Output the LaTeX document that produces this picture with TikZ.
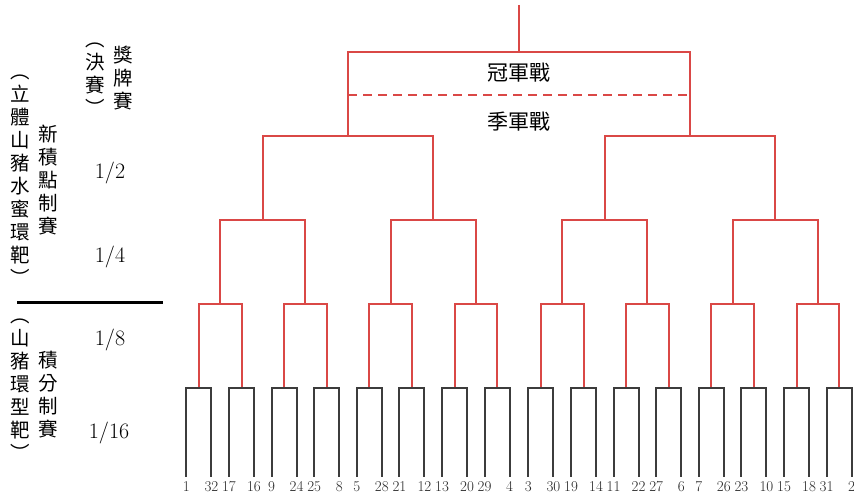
\documentclass[tikz,border=0pt]{standalone}
\usepackage{fontspec}
\usepackage{xcolor}
\usepackage{tikz}
\newfontfamily\cjk{Noto Sans CJK TC}
\definecolor{bracketred}{RGB}{218,72,70}
\definecolor{boxgray}{RGB}{60,60,60}
\def\seeds{{1,32,17,16,9,24,25,8,5,28,21,12,13,20,29,4,3,30,19,14,11,22,27,6,7,26,23,10,15,18,31,2}}

\begin{document}
\begin{tikzpicture}[x=1bp,y=-1bp,grow=down,level distance=84bp,line width=2bp,
    edge from parent path={(\tikzparentnode) -| (\tikzchildnode)},
    level 1/.style={sibling distance=342bp},
    level 2/.style={sibling distance=170.4bp},
    level 3/.style={sibling distance=85.2bp},
    level 4/.style={sibling distance=42.6bp},
    level 5/.style={sibling distance=25bp,level distance=89bp,color=boxgray},
    seed/.style={font=\fontsize{15bp}{15bp}\selectfont,anchor=north,inner xsep=0pt,inner ysep=3.5bp,text=black!85},
    vcol/.style={font=\cjk\fontsize{19.5bp}{23bp}\selectfont,align=center,inner sep=0pt},
    roundlbl/.style={font=\fontsize{22bp}{22bp}\selectfont,inner sep=0pt}]
    \useasboundingbox (0,0) rectangle (854,495);
    % bracket
    \begin{scope}[bracketred]
        \node[coordinate] (final) at (519,52) {}
        child foreach \a in {0,1} {coordinate
            child foreach \b in {0,1} {coordinate
                child foreach \c in {0,1} {coordinate
                    child foreach \d in {0,1} {coordinate
                        child foreach \e in {0,1} {node[seed]
                            {\pgfmathtruncatemacro\sd{\seeds[16*\a+8*\b+4*\c+2*\d+\e]}\sd}}
                    }
                }
            }
        };
        \coordinate (top) at (519,5);
        \coordinate (thirdline) at (519,95);
        \draw (top) -- (final);
        \draw[dash pattern=on 9bp off 6bp] (final-1 |- thirdline) -- (final-2 |- thirdline);
    \end{scope}
    \node[vcol,font=\cjk\fontsize{21bp}{21bp}\selectfont] (champ) at (519,73) {冠軍戰};
    \node[vcol,font=\cjk\fontsize{21bp}{21bp}\selectfont] (bronze) at (519,122) {季軍戰};
    % left column
    \node[vcol] (medal) at (123,78) {獎\\牌\\賽};
    \node[vcol] (finalnote) at (95,79) {︵\\決\\賽\\︶};
    \node[vcol] (newshape) at (20,180) {︵\\立\\體\\山\\豬\\水\\蜜\\環\\靶\\︶};
    \node[vcol] (newscore) at (48,180) {新\\積\\點\\制\\賽};
    \node[vcol] (oldshape) at (20,390) {︵\\山\\豬\\環\\型\\靶\\︶};
    \node[vcol] (oldscore) at (48,395) {積\\分\\制\\賽};
    \coordinate (divl) at (17,303);
    \coordinate (divr) at (163,303);
    \draw[line width=3bp] (divl) -- (divr);
    \node[roundlbl] (half) at (110,173) {1/2};
    \node[roundlbl] (quarter) at (110,257) {1/4};
    \node[roundlbl] (eighth) at (110,340) {1/8};
    \node[roundlbl] (sixteenth) at (109,433) {1/16};
\end{tikzpicture}
\end{document}
